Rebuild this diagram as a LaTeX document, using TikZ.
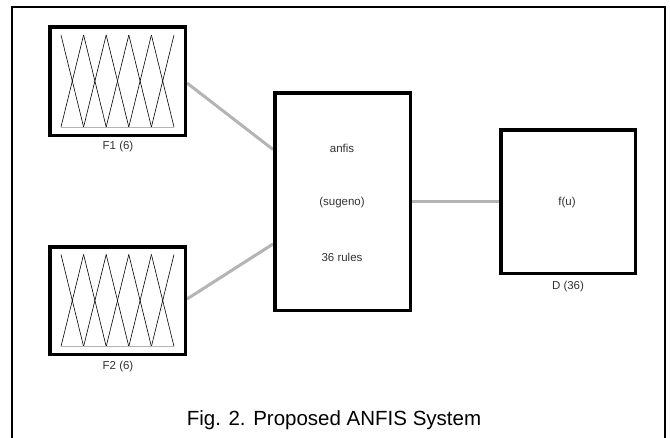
\documentclass[tikz,border=0pt]{standalone}
\usepackage{fontspec}
\setmainfont{Liberation Sans}
\usetikzlibrary{backgrounds}
\definecolor{wire}{HTML}{B4B4B4}
\definecolor{labelgray}{HTML}{333333}
\tikzset{
  block/.style={draw=black, line width=3.5pt, fill=white, inner sep=0pt},
  wireline/.style={draw=wire, line width=3pt},
  small/.style={font=\fontsize{11.5}{13}\selectfont, text=labelgray, inner sep=0pt},
  mfline/.style={draw=black, line width=0.6pt},
  mfbase/.style={draw=wire, line width=1pt},
}
\begin{document}
\begin{tikzpicture}[x=1pt,y=-1pt]
  \useasboundingbox (0,0) rectangle (670,437);
  % outer frame, open at the bottom
  \draw[line width=1.5pt] (12,440) -- (12,7) -- (665,7) -- (665,440);

  % input membership-function blocks
  \node[block, minimum width=135.5pt, minimum height=108.5pt] (F1) at (117.5,81) {};
  \node[block, minimum width=135.5pt, minimum height=107.5pt] (F2) at (117.5,300.5) {};
  % rule base block
  \node[block, minimum width=135.5pt, minimum height=217.5pt] (C) at (342.5,201.5) {};
  % output block
  \node[block, minimum width=134.5pt, minimum height=143.5pt] (D) at (568,201.5) {};

  % triangular membership functions inside each input block
  \foreach \b in {F1,F2}{
    \foreach \i in {0,...,4}{
      \pgfmathsetmacro{\xa}{-56.5+22.6*\i}
      \pgfmathsetmacro{\xb}{-56.5+22.6*(\i+1)}
      \draw[mfline] ([shift={(\xa,-46)}]\b.center) -- ([shift={(\xb,46)}]\b.center);
      \draw[mfline] ([shift={(\xa,46)}]\b.center) -- ([shift={(\xb,-46)}]\b.center);
    }
    \draw[mfbase] ([shift={(-56.5,46)}]\b.center) -- ([shift={(56.5,46)}]\b.center);
  }

  % block labels
  \node[small] (F1lab) at (118,147) {F1 (6)};
  \node[small] (F2lab) at (118,367) {F2 (6)};
  \node[small] (Dlab) at (568,287) {D (36)};
  \node[small] (t1) at (342,148) {anfis};
  \node[small] (t2) at (342,203) {(sugeno)};
  \node[small] (t3) at (342,257) {36 rules};
  \node[small] (fu) at (567,203) {f(u)};

  % connectors, kept behind the blocks
  \coordinate (cinA) at ([yshift=52pt]C.west);
  \coordinate (cinB) at ([yshift=-42.5pt]C.west);
  \begin{pgfonlayer}{background}
    \fill[white] (0,0) rectangle (670,437);
    \draw[wireline] ([yshift=-2pt]F1.east) -- (cinA);
    \draw[wireline] ([yshift=1.5pt]F2.east) -- (cinB);
    \draw[wireline] (C.east) -- (D.west);
  \end{pgfonlayer}

  % caption
  \node[font=\fontsize{20.5}{24}\selectfont, inner sep=0pt] (cap) at (334,420) {Fig. 2. Proposed ANFIS System};
\end{tikzpicture}
\end{document}
